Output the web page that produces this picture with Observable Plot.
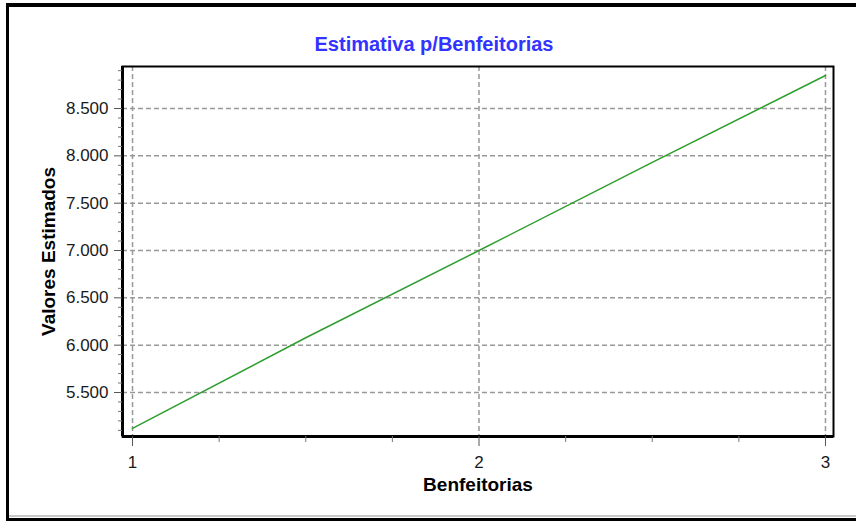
<!DOCTYPE html>
<html>
<head>
<meta charset="utf-8">
<script src="https://cdn.jsdelivr.net/npm/d3@7"></script>
<script src="https://cdn.jsdelivr.net/npm/@observablehq/plot@0.6"></script>
<style>
  html, body { margin: 0; padding: 0; background: #fff; }
  #wrap { position: relative; width: 856px; height: 521px; overflow: hidden; font-family: "Liberation Sans", Arial, sans-serif; }
  #title { box-sizing: border-box; height: 60px; padding-top: 34px; margin-left: 10px; width: 848px; text-align: center;
           font-size: 20px; line-height: 20px; font-weight: bold; color: #3333ff; }
  .bar { position: absolute; background: #000; }
</style>
</head>
<body>
<div id="wrap">
  <div class="bar" style="left:6px; top:3px; width:850px; height:4px;"></div>
  <div class="bar" style="left:6px; top:3px; width:3px; height:518px;"></div>
  <div class="bar" style="left:9px; top:515px; width:847px; height:2px; background:#c8c8c8;"></div>
  <div class="bar" style="left:9px; top:518px; width:847px; height:3px;"></div>
  <div id="title">Estimativa p/Benfeitorias</div>
  <div id="chart"></div>
</div>
<script>
// Data
const benfeitorias = [1, 1.5, 2, 2.5, 3];
const valores = [5120, 6078, 7000, 7931, 8849];

// Ticks
const xTicks = [1, 2, 3];
const xMinorTicks = [1.25, 1.5, 1.75, 2.25, 2.5, 2.75];
const yTicks = [5500, 6000, 6500, 7000, 7500, 8000, 8500];
const yMinorTicks = [5100, 5200, 5300, 5400, 5600, 5700, 5800, 5900, 6100, 6200, 6300, 6400,
  6600, 6700, 6800, 6900, 7100, 7200, 7300, 7400, 7600, 7700, 7800, 7900,
  8100, 8200, 8300, 8400, 8600, 8700, 8800, 8900];

const xTitle = "Benfeitorias";
const yTitle = "Valores Estimados";

const data = benfeitorias.map((x, i) => ({x, y: valores[i]}));
const fmt = d3.formatLocale({decimal: ",", thousands: ".", grouping: [3], currency: ["R$ ", ""]}).format(",d");

const xDomain = [0.9711, 3.0231];
const yDomain = [5035, 8944];

const font = "Liberation Sans, Arial, sans-serif";

const chart = Plot.plot({
  width: 856,
  height: 461,
  marginLeft: 122,
  marginRight: 23,
  marginTop: 6,
  marginBottom: 85,
  style: {fontFamily: font, background: "transparent", overflow: "visible"},
  x: {domain: xDomain},
  y: {domain: yDomain},
  marks: [
    Plot.gridX(xTicks, {stroke: "#999", strokeOpacity: 1, strokeWidth: 1.5, strokeDasharray: "5,3"}),
    Plot.gridY(yTicks, {stroke: "#999", strokeOpacity: 1, strokeWidth: 1.5, strokeDasharray: "5,3"}),
    Plot.line(data, {x: "x", y: "y", stroke: "#2e9e2e", strokeWidth: 1.5}),
    Plot.frame({stroke: "#000", strokeWidth: 2}),
    Plot.ruleX([xDomain[0]], {stroke: "#000", strokeWidth: 3}),
    Plot.ruleY([yDomain[0]], {stroke: "#000", strokeWidth: 3}),
    Plot.axisY(yMinorTicks, {tickSize: 4, text: null, stroke: "#777", label: null}),
    Plot.axisY(yTicks, {tickSize: 8, tickPadding: 6, tickFormat: fmt, fontSize: 17, fill: "#1a1a1a", stroke: "#555", label: null}),
    Plot.axisX(xMinorTicks, {tickSize: 6, text: null, stroke: "#777", label: null}),
    Plot.axisX(xTicks, {tickSize: 10, tickPadding: 9, tickFormat: d => String(d), fontSize: 17, fill: "#1a1a1a", stroke: "#555", label: null}),
    Plot.text([xTitle], {frameAnchor: "bottom", dy: 48, text: d => d, fontSize: 19, fontWeight: "bold", fill: "#000", lineAnchor: "middle"}),
    Plot.text([yTitle], {frameAnchor: "left", dx: -74, rotate: -90, text: d => d, fontSize: 19, fontWeight: "bold", fill: "#000", lineAnchor: "middle", textAnchor: "middle"})
  ]
});
document.getElementById("chart").appendChild(chart);
</script>
</body>
</html>
